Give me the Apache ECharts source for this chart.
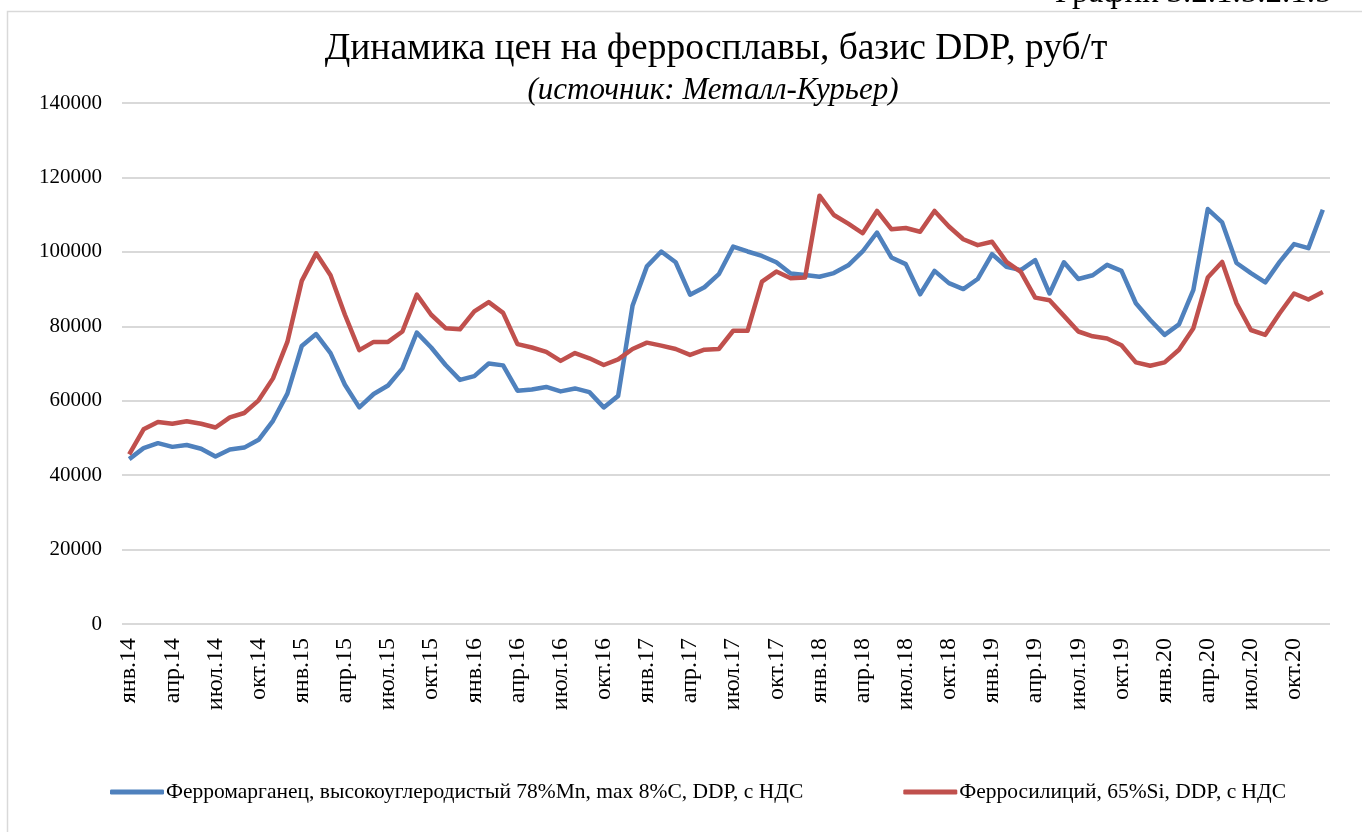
<!DOCTYPE html>
<html>
<head>
  <meta charset="utf-8">
  <title>Динамика цен на ферросплавы</title>
  <script src="https://cdn.jsdelivr.net/npm/echarts@6/dist/echarts.min.js"></script>
  <style>
    html, body { margin: 0; padding: 0; background: #fff; }
    #main { width: 1362px; height: 832px; }
  </style>
</head>
<body>
  <div id="main"></div>
  <script>
    // месяцы янв.14 .. дек.20
    var monthNames = ['янв', 'фев', 'мар', 'апр', 'май', 'июн', 'июл', 'авг', 'сен', 'окт', 'ноя', 'дек'];
    var years = ['14', '15', '16', '17', '18', '19', '20'];
    var months = [];
    years.forEach(function (y) {
      monthNames.forEach(function (m) { months.push(m + '.' + y); });
    });

    // Ферромарганец
    var femn = [
      44300, 47250, 48600, 47600, 48100, 47100, 45000, 46900, 47400, 49500, 54600, 61900,
      74700, 77900, 72800, 64300, 58200, 61800, 64100, 68700, 78300, 74300, 69600, 65600,
      66600, 70000, 69500, 62700, 63000, 63700, 62500, 63300, 62300, 58200, 61300, 85500,
      96100, 100100, 97200, 88500, 90500, 94000, 101400, 100100, 98900, 97200, 94200, 93800,
      93300, 94300, 96400, 100100, 105200, 98500, 96700, 88600, 94900, 91600, 90000, 92700,
      99400, 96000, 95100, 97800, 88800, 97200, 92700, 93700, 96500, 94900, 86200, 81700,
      77700, 80500, 89800, 111500, 107900, 97000, 94300, 91800, 97300, 102100, 101000, 111300
    ];

    // Ферросилиций
    var fesi = [
      45600, 52300, 54300, 53800, 54500, 53800, 52800, 55500, 56700, 60100, 66000, 75800,
      92200, 99600, 93700, 83100, 73600, 75800, 75800, 78600, 88500, 83100, 79500, 79200,
      84000, 86500, 83600, 75200, 74300, 73100, 70700, 72800, 71400, 69600, 71100, 73900,
      75600, 74800, 73900, 72300, 73700, 73900, 78800, 78800, 92000, 94700, 92900, 93100,
      115100, 109900, 107600, 105000, 111000, 106100, 106400, 105400, 111000, 106800, 103400, 101800,
      102700, 97300, 94600, 87700, 87000, 82800, 78600, 77300, 76700, 74900, 70300, 69400,
      70300, 73700, 79500, 93100, 97300, 86200, 79000, 77700, 83500, 88800, 87200, 89200
    ];

    var seriesNames = [
      'Ферромарганец, высокоуглеродистый 78%Mn, max 8%C, DDP, с НДС',
      'Ферросилиций, 65%Si, DDP, с НДС'
    ];

    var serif = '"Liberation Serif", "DejaVu Serif", serif';
    var chart = echarts.init(document.getElementById('main'));

    chart.setOption({
      backgroundColor: '#fff',
      animation: false,
      title: [{
        text: 'Динамика цен на ферросплавы, базис DDP, руб/т',
        left: 711,
        textAlign: 'center',
        top: 25,
        textStyle: { fontFamily: serif, fontSize: 37.5, fontWeight: 'normal', color: '#000' }
      }, {
        text: '(источник: Металл-Курьер)',
        left: 708,
        textAlign: 'center',
        top: 70,
        textStyle: { fontFamily: serif, fontSize: 31, fontStyle: 'italic', fontWeight: 'normal', color: '#000' }
      }],
      graphic: [{
        type: 'rect',
        shape: { x: 7.5, y: 11.5, width: 1400, height: 900 },
        style: { fill: 'none', stroke: '#d9d9d9', lineWidth: 1.5 },
        z: -1
      }, {
        type: 'text',
        left: 1055,
        top: -23,
        style: { text: 'График 3.2.1.5.2.1.5', font: '33px ' + serif, fill: '#000' }
      }],
      legend: {
        bottom: 24,
        left: 105,
        itemGap: 100,
        itemWidth: 54,
        itemHeight: 5,
        icon: 'roundRect',
        textStyle: { fontFamily: serif, fontSize: 21.5, color: '#000', padding: [0, 0, 0, -3] },
        data: seriesNames
      },
      grid: { left: 122, right: 32, top: 103, bottom: 208 },
      xAxis: {
        type: 'category',
        boundaryGap: true,
        data: months,
        axisLine: { show: false },
        axisTick: { show: false },
        axisLabel: {
          interval: 2,
          rotate: 90,
          margin: 14,
          fontFamily: serif,
          fontSize: 24,
          color: '#000'
        }
      },
      yAxis: {
        type: 'value',
        min: 0,
        max: 140000,
        interval: 20000,
        axisLine: { show: false },
        axisTick: { show: false },
        axisLabel: {
          fontFamily: serif, fontSize: 21, color: '#000', margin: 20,
          formatter: function (v) { return String(v); }
        },
        splitLine: { lineStyle: { color: '#d9d9d9', width: 2 } }
      },
      series: [{
        name: seriesNames[0],
        type: 'line',
        data: femn,
        symbol: 'none',
        color: '#4F81BD',
        lineStyle: { width: 4.5, color: '#4F81BD', join: 'round' }
      }, {
        name: seriesNames[1],
        type: 'line',
        data: fesi,
        symbol: 'none',
        color: '#C0504D',
        lineStyle: { width: 4.5, color: '#C0504D', join: 'round' }
      }]
    });
  </script>
</body>
</html>
